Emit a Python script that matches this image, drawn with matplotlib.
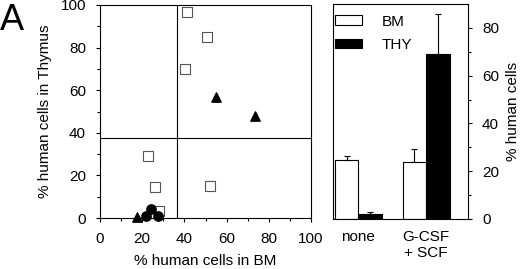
import matplotlib
matplotlib.use('Agg')
import matplotlib.pyplot as plt
import numpy as np

plt.rcParams['font.family'] = ['Liberation Sans', 'DejaVu Sans']

# scatter data: % human cells in BM vs Thymus
sq_x = [41, 50.5, 40.5, 22.7, 26.2, 52, 28]
sq_y = [96.5, 85, 70, 29, 14.7, 15, 3.4]
tri_x = [54.8, 73.3, 17.7]
tri_y = [57, 48, 0.5]
circ_x = [21.6, 24, 27.6]
circ_y = [1, 4.4, 1]
vline_x = 36.5
hline_y = 37.7

# bar data
groups = ['none', 'G-CSF\n+ SCF']
bm_vals = [24.5, 24]
bm_err = [2, 5.5]
thy_vals = [2, 69]
thy_err = [1, 17]

fig = plt.figure(figsize=(5.2, 2.69), dpi=100)

ax1 = fig.add_axes([100/520, 1-218/269, 211/520, 213/269])
ax1.axvline(vline_x, color='black', lw=0.8)
ax1.axhline(hline_y, color='black', lw=0.8)
ax1.scatter(sq_x, sq_y, marker='s', s=48, facecolors='white', edgecolors='#555555', lw=0.8, zorder=3, clip_on=False)
ax1.scatter(tri_x, tri_y, marker='^', s=45, color='black', zorder=4, clip_on=False)
ax1.scatter(circ_x, circ_y, marker='o', s=45, color='black', zorder=4, clip_on=False)
ax1.set_xlim(0, 100)
ax1.set_ylim(0, 100)
ax1.set_xticks(np.arange(0, 101, 20))
ax1.set_yticks(np.arange(0, 101, 20))
ax1.set_xticks(np.arange(0, 101, 10), minor=True)
ax1.set_yticks(np.arange(0, 101, 10), minor=True)
ax1.tick_params(which='major', direction='out', length=3, width=0.8, labelsize=11, pad=7)
ax1.tick_params(which='minor', direction='out', length=2, width=0.8)
ax1.set_xlabel('% human cells in BM', fontsize=11, labelpad=6)
ax1.set_ylabel('% human cells in Thymus', fontsize=11, labelpad=6)
for sp in ax1.spines.values():
    sp.set_linewidth(0.8)
fig.text(0.0, 0.99, 'A', fontsize=26, va='top', ha='left')

ax2 = fig.add_axes([333/520, 1-219/269, 135/520, 215/269])
x = np.arange(len(groups))
w = 0.347
ax2.bar(x - w/2, bm_vals, w, color='white', edgecolor='black', lw=0.8, label='BM',
        yerr=[np.zeros(2), bm_err], capsize=2, error_kw=dict(elinewidth=0.8, capthick=0.8))
ax2.bar(x + w/2, thy_vals, w, color='black', edgecolor='black', lw=0.8, label='THY',
        yerr=[np.zeros(2), thy_err], capsize=2, error_kw=dict(elinewidth=0.8, capthick=0.8))
ax2.set_xlim(-0.374, 1.62)
ax2.set_ylim(0, 90)
ax2.set_xticks(x)
ax2.set_xticklabels(groups, fontsize=11)
ax2.tick_params(axis='x', length=0, pad=8)
ax2.yaxis.tick_right()
ax2.yaxis.set_label_position('right')
ax2.set_yticks(np.arange(0, 81, 20))
ax2.set_yticks(np.arange(0, 81, 10), minor=True)
ax2.tick_params(axis='y', which='major', direction='out', length=3, width=0.8, labelsize=11, pad=7)
ax2.tick_params(axis='y', which='minor', direction='out', length=2, width=0.8)
ax2.set_ylabel('% human cells', fontsize=11, labelpad=5)
for sp in ax2.spines.values():
    sp.set_linewidth(0.8)
ax2.legend(loc='upper left', bbox_to_anchor=(-0.01, 0.965), frameon=False, fontsize=11,
           handlelength=1.8, handleheight=0.6, borderaxespad=0, borderpad=0.2,
           handletextpad=1.3, labelspacing=0.6)

fig.savefig('out.png', dpi=100)
